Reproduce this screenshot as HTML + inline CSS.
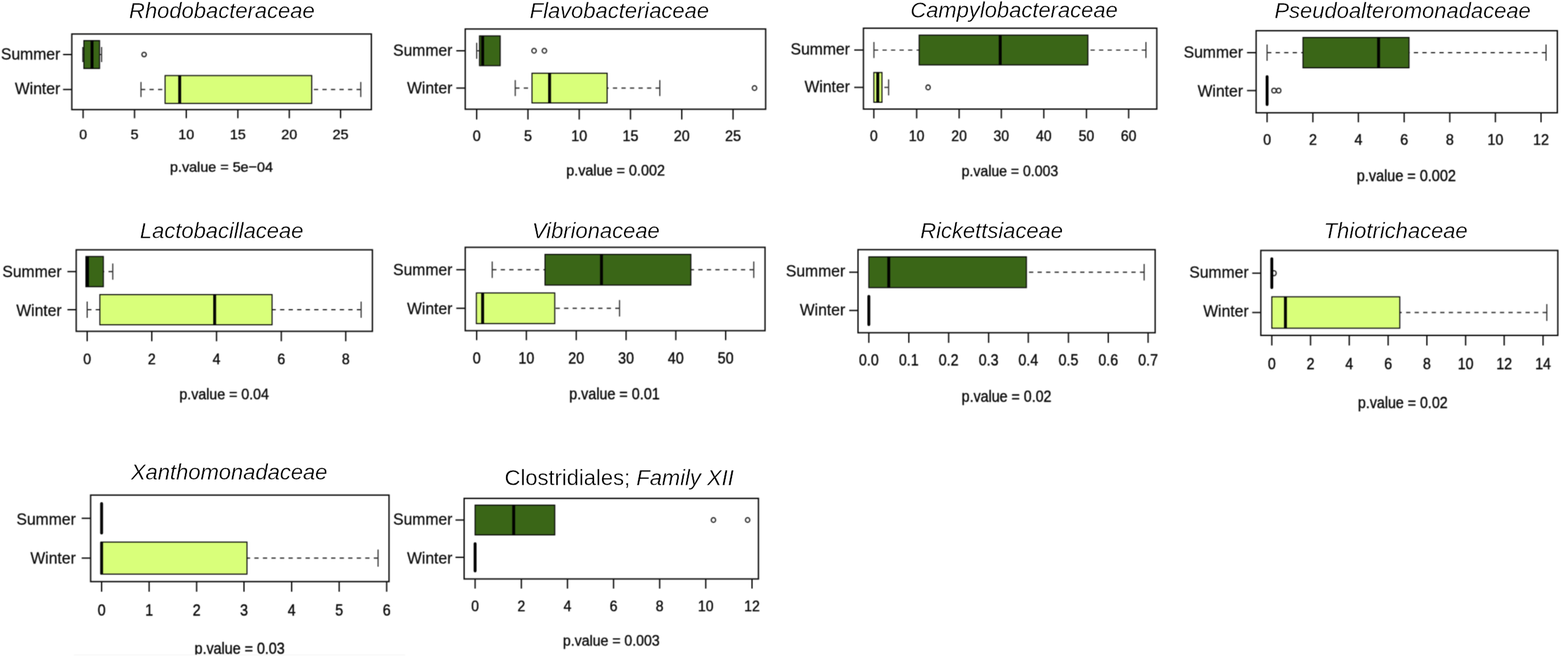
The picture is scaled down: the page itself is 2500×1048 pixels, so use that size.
<!DOCTYPE html>
<html lang="en">
<head>
<meta charset="utf-8">
<title>Seasonal differences in bacterial family abundance</title>
<style>
html,body{margin:0;padding:0;background:#fff;}
body{width:2500px;height:1048px;overflow:hidden;}
svg{display:block;}
text{font-family:"Liberation Sans",sans-serif;fill:#0c0c0c;stroke:#0c0c0c;stroke-width:0.5px;stroke-linejoin:round;}
.tt{font-size:35.0px;font-style:italic;text-anchor:middle;stroke:#fff;stroke-width:0.45px;fill:#000;}
.tt .rg{font-style:normal;}
.yl{font-size:25.0px;text-anchor:end;stroke-width:0.3px;}
.xl{font-size:22.8px;text-anchor:middle;}
.pv{font-size:22.9px;text-anchor:middle;}
.fr{fill:none;stroke:#0c0c0c;stroke-width:2.15;}
.tk{stroke:#0c0c0c;stroke-width:2.1;}
.bx{stroke:#0c0c0c;stroke-width:1.7;}
.md{stroke:#000;stroke-width:4.6;}
.rd{stroke-linecap:round;}
.wd{stroke:#303030;stroke-width:1.85;stroke-dasharray:6.8 6.8;}
.wc{stroke:#303030;stroke-width:1.8;}
.ot{fill:none;stroke:#303030;stroke-width:2.1;}
</style>
</head>
<body>
<svg width="2500" height="1048" viewBox="0 0 2500 1048" role="img" aria-label="Boxplots of bacterial family relative abundance in summer and winter">
<defs><filter id="soft" x="0" y="0" width="2500" height="1048" filterUnits="userSpaceOnUse" color-interpolation-filters="sRGB"><feConvolveMatrix order="3" kernelMatrix="0.04 0.12 0.04 0.12 0.36 0.12 0.04 0.12 0.04" edgeMode="duplicate" preserveAlpha="true"/></filter></defs>
<g filter="url(#soft)">
<rect x="0" y="0" width="2500" height="1048" fill="#fff"/>
<g class="panel">
<ellipse class="ot" cx="229.75" cy="87" rx="3.5" ry="3.5"/>
<line class="wd" x1="132" y1="87" x2="133.75" y2="87"/>
<line class="wc" x1="132" y1="74.99" x2="132" y2="99.01"/>
<line class="wd" x1="162" y1="87" x2="158.75" y2="87"/>
<line class="wc" x1="162" y1="74.99" x2="162" y2="99.01"/>
<rect class="bx" x="133.75" y="64.78" width="25" height="44.44" fill="#3a6617"/>
<line class="md" x1="146.75" y1="64.78" x2="146.75" y2="109.22"/>
<line class="wd" x1="224.75" y1="142.75" x2="263.25" y2="142.75"/>
<line class="wc" x1="224.75" y1="130.74" x2="224.75" y2="154.76"/>
<line class="wd" x1="575.25" y1="142.75" x2="497" y2="142.75"/>
<line class="wc" x1="575.25" y1="130.74" x2="575.25" y2="154.76"/>
<rect class="bx" x="263.25" y="120.53" width="233.75" height="44.44" fill="#d9ff7a"/>
<line class="md" x1="286.5" y1="120.53" x2="286.5" y2="164.97"/>
<rect class="fr" x="114.5" y="54.25" width="477.6" height="120.6"/>
<line class="tk" x1="100.5" y1="87" x2="114.5" y2="87"/>
<text class="yl" x="96" y="95.25">Summer</text>
<line class="tk" x1="100.5" y1="142.75" x2="114.5" y2="142.75"/>
<text class="yl" x="96" y="150">Winter</text>
<line class="tk" x1="132.5" y1="174.85" x2="132.5" y2="188.6"/>
<text class="xl" transform="translate(132.5 222.3) scale(0.9992 1)">0</text>
<line class="tk" x1="214.5" y1="174.85" x2="214.5" y2="188.6"/>
<text class="xl" transform="translate(214.5 222.3) scale(0.9992 1)">5</text>
<line class="tk" x1="297" y1="174.85" x2="297" y2="188.6"/>
<text class="xl" transform="translate(297 222.3) scale(0.9992 1)">10</text>
<line class="tk" x1="379.25" y1="174.85" x2="379.25" y2="188.6"/>
<text class="xl" transform="translate(379.25 222.3) scale(0.9992 1)">15</text>
<line class="tk" x1="461.25" y1="174.85" x2="461.25" y2="188.6"/>
<text class="xl" transform="translate(461.25 222.3) scale(0.9992 1)">20</text>
<line class="tk" x1="543" y1="174.85" x2="543" y2="188.6"/>
<text class="xl" transform="translate(543 222.3) scale(0.9992 1)">25</text>
<text class="pv" transform="translate(353.1 273.95) scale(0.9992 1)">p.value = 5e−04</text>
</g>
<g class="panel">
<ellipse class="ot" cx="851.5" cy="81" rx="3.51" ry="3.73"/>
<ellipse class="ot" cx="868" cy="81" rx="3.51" ry="3.73"/>
<line class="wd" x1="760" y1="81" x2="764.5" y2="81"/>
<line class="wc" x1="760" y1="68.25" x2="760" y2="93.75"/>
<rect class="bx" x="764.5" y="57.3" width="33" height="47.41" fill="#3a6617"/>
<line class="md" x1="769.5" y1="57.3" x2="769.5" y2="104.7"/>
<ellipse class="ot" cx="1203" cy="140.5" rx="3.51" ry="3.73"/>
<line class="wd" x1="821.5" y1="140.5" x2="848.25" y2="140.5"/>
<line class="wc" x1="821.5" y1="127.75" x2="821.5" y2="153.25"/>
<line class="wd" x1="1052" y1="140.5" x2="968" y2="140.5"/>
<line class="wc" x1="1052" y1="127.75" x2="1052" y2="153.25"/>
<rect class="bx" x="848.25" y="116.8" width="119.75" height="47.41" fill="#d9ff7a"/>
<line class="md" x1="876.25" y1="116.8" x2="876.25" y2="164.2"/>
<rect class="fr" x="741.75" y="46.25" width="479" height="128"/>
<line class="tk" x1="727.5" y1="81" x2="741.75" y2="81"/>
<text class="yl" x="721.25" y="89">Summer</text>
<line class="tk" x1="727.5" y1="140.5" x2="741.75" y2="140.5"/>
<text class="yl" x="721.25" y="149">Winter</text>
<line class="tk" x1="760" y1="174.25" x2="760" y2="190.6"/>
<text class="xl" transform="translate(760 225) scale(1.0021 1.0667)">0</text>
<line class="tk" x1="841.75" y1="174.25" x2="841.75" y2="190.6"/>
<text class="xl" transform="translate(841.75 225) scale(1.0021 1.0667)">5</text>
<line class="tk" x1="923.5" y1="174.25" x2="923.5" y2="190.6"/>
<text class="xl" transform="translate(923.5 225) scale(1.0021 1.0667)">10</text>
<line class="tk" x1="1005.25" y1="174.25" x2="1005.25" y2="190.6"/>
<text class="xl" transform="translate(1005.25 225) scale(1.0021 1.0667)">15</text>
<line class="tk" x1="1087" y1="174.25" x2="1087" y2="190.6"/>
<text class="xl" transform="translate(1087 225) scale(1.0021 1.0667)">20</text>
<line class="tk" x1="1168.75" y1="174.25" x2="1168.75" y2="190.6"/>
<text class="xl" transform="translate(1168.75 225) scale(1.0021 1.0667)">25</text>
<text class="pv" transform="translate(981.5 280.45) scale(1.0021 1.0667)">p.value = 0.002</text>
</g>
<g class="panel">
<line class="wd" x1="1393.4" y1="79.8" x2="1465.5" y2="79.8"/>
<line class="wc" x1="1393.4" y1="67.02" x2="1393.4" y2="92.58"/>
<line class="wd" x1="1827.1" y1="79.8" x2="1734.5" y2="79.8"/>
<line class="wc" x1="1827.1" y1="67.02" x2="1827.1" y2="92.58"/>
<rect class="bx" x="1465.5" y="56.05" width="269" height="47.5" fill="#3a6617"/>
<line class="md" x1="1594.75" y1="56.05" x2="1594.75" y2="103.55"/>
<ellipse class="ot" cx="1479.75" cy="139.4" rx="3.42" ry="3.74"/>
<line class="wd" x1="1416.75" y1="139.4" x2="1406.25" y2="139.4"/>
<line class="wc" x1="1416.75" y1="126.62" x2="1416.75" y2="152.18"/>
<rect class="bx" x="1393.25" y="115.65" width="13" height="47.5" fill="#d9ff7a"/>
<line class="md" x1="1399.5" y1="115.65" x2="1399.5" y2="163.15"/>
<rect class="fr" x="1376.65" y="45" width="467.75" height="129"/>
<line class="tk" x1="1362" y1="79.8" x2="1376.65" y2="79.8"/>
<text class="yl" x="1355" y="87.15">Summer</text>
<line class="tk" x1="1362" y1="139.4" x2="1376.65" y2="139.4"/>
<text class="yl" x="1355" y="147.15">Winter</text>
<line class="tk" x1="1393.25" y1="174" x2="1393.25" y2="188.85"/>
<text class="xl" transform="translate(1393.25 224.65) scale(0.9786 1.0688)">0</text>
<line class="tk" x1="1461.5" y1="174" x2="1461.5" y2="188.85"/>
<text class="xl" transform="translate(1461.5 224.65) scale(0.9786 1.0688)">10</text>
<line class="tk" x1="1529.25" y1="174" x2="1529.25" y2="188.85"/>
<text class="xl" transform="translate(1529.25 224.65) scale(0.9786 1.0688)">20</text>
<line class="tk" x1="1596.5" y1="174" x2="1596.5" y2="188.85"/>
<text class="xl" transform="translate(1596.5 224.65) scale(0.9786 1.0688)">30</text>
<line class="tk" x1="1664.25" y1="174" x2="1664.25" y2="188.85"/>
<text class="xl" transform="translate(1664.25 224.65) scale(0.9786 1.0688)">40</text>
<line class="tk" x1="1732.25" y1="174" x2="1732.25" y2="188.85"/>
<text class="xl" transform="translate(1732.25 224.65) scale(0.9786 1.0688)">50</text>
<line class="tk" x1="1799.5" y1="174" x2="1799.5" y2="188.85"/>
<text class="xl" transform="translate(1799.5 224.65) scale(0.9786 1.0688)">60</text>
<text class="pv" transform="translate(1610.25 281.1) scale(0.9786 1.0688)">p.value = 0.003</text>
</g>
<g class="panel">
<line class="wd" x1="2020.25" y1="84" x2="2077.5" y2="84"/>
<line class="wc" x1="2020.25" y1="71.02" x2="2020.25" y2="96.98"/>
<line class="wd" x1="2465" y1="84" x2="2246.5" y2="84"/>
<line class="wc" x1="2465" y1="71.02" x2="2465" y2="96.98"/>
<rect class="bx" x="2077.5" y="59.83" width="169" height="48.33" fill="#3a6617"/>
<line class="md" x1="2198" y1="59.83" x2="2198" y2="108.17"/>
<ellipse class="ot" cx="2031.25" cy="144.5" rx="3.52" ry="3.81"/>
<ellipse class="ot" cx="2038.75" cy="144.5" rx="3.52" ry="3.81"/>
<line class="md rd" x1="2020.25" y1="122.33" x2="2020.25" y2="166.67"/>
<rect class="fr" x="2002.75" y="49" width="480.25" height="130.9"/>
<line class="tk" x1="1988.25" y1="84" x2="2002.75" y2="84"/>
<text class="yl" x="1981.75" y="91.75">Summer</text>
<line class="tk" x1="1988.25" y1="144.5" x2="2002.75" y2="144.5"/>
<text class="yl" x="1981.75" y="154">Winter</text>
<line class="tk" x1="2020.25" y1="179.9" x2="2020.25" y2="195.1"/>
<text class="xl" transform="translate(2020.25 231.3) scale(1.0047 1.0875)">0</text>
<line class="tk" x1="2093.25" y1="179.9" x2="2093.25" y2="195.1"/>
<text class="xl" transform="translate(2093.25 231.3) scale(1.0047 1.0875)">2</text>
<line class="tk" x1="2165.75" y1="179.9" x2="2165.75" y2="195.1"/>
<text class="xl" transform="translate(2165.75 231.3) scale(1.0047 1.0875)">4</text>
<line class="tk" x1="2238.75" y1="179.9" x2="2238.75" y2="195.1"/>
<text class="xl" transform="translate(2238.75 231.3) scale(1.0047 1.0875)">6</text>
<line class="tk" x1="2311.5" y1="179.9" x2="2311.5" y2="195.1"/>
<text class="xl" transform="translate(2311.5 231.3) scale(1.0047 1.0875)">8</text>
<line class="tk" x1="2384.25" y1="179.9" x2="2384.25" y2="195.1"/>
<text class="xl" transform="translate(2384.25 231.3) scale(1.0047 1.0875)">10</text>
<line class="tk" x1="2457" y1="179.9" x2="2457" y2="195.1"/>
<text class="xl" transform="translate(2457 231.3) scale(1.0047 1.0875)">12</text>
<text class="pv" transform="translate(2242.25 289.35) scale(1.0047 1.0875)">p.value = 0.002</text>
</g>
<g class="panel">
<line class="wd" x1="179.75" y1="433.25" x2="164.75" y2="433.25"/>
<line class="wc" x1="179.75" y1="420.31" x2="179.75" y2="446.19"/>
<rect class="bx" x="137" y="409.18" width="27.75" height="48.15" fill="#3a6617"/>
<line class="md" x1="139.5" y1="409.18" x2="139.5" y2="457.32"/>
<line class="wd" x1="139" y1="494" x2="159.25" y2="494"/>
<line class="wc" x1="139" y1="481.06" x2="139" y2="506.94"/>
<line class="wd" x1="575.75" y1="494" x2="433.75" y2="494"/>
<line class="wc" x1="575.75" y1="481.06" x2="575.75" y2="506.94"/>
<rect class="bx" x="159.25" y="469.93" width="274.5" height="48.15" fill="#d9ff7a"/>
<line class="md" x1="342.25" y1="469.93" x2="342.25" y2="518.07"/>
<rect class="fr" x="121.5" y="398.5" width="472.25" height="130"/>
<line class="tk" x1="107.5" y1="433.25" x2="121.5" y2="433.25"/>
<text class="yl" x="98.25" y="441.5">Summer</text>
<line class="tk" x1="107.5" y1="494" x2="121.5" y2="494"/>
<text class="yl" x="98.25" y="504">Winter</text>
<line class="tk" x1="139" y1="528.5" x2="139" y2="544.35"/>
<text class="xl" transform="translate(139 580.8) scale(0.988 1.0833)">0</text>
<line class="tk" x1="242" y1="528.5" x2="242" y2="544.35"/>
<text class="xl" transform="translate(242 580.8) scale(0.988 1.0833)">2</text>
<line class="tk" x1="345.25" y1="528.5" x2="345.25" y2="544.35"/>
<text class="xl" transform="translate(345.25 580.8) scale(0.988 1.0833)">4</text>
<line class="tk" x1="448.5" y1="528.5" x2="448.5" y2="544.35"/>
<text class="xl" transform="translate(448.5 580.8) scale(0.988 1.0833)">6</text>
<line class="tk" x1="551.25" y1="528.5" x2="551.25" y2="544.35"/>
<text class="xl" transform="translate(551.25 580.8) scale(0.988 1.0833)">8</text>
<text class="pv" transform="translate(357.4 636.6) scale(0.988 1.0833)">p.value = 0.04</text>
</g>
<g class="panel">
<line class="wd" x1="784.75" y1="430.25" x2="869" y2="430.25"/>
<line class="wc" x1="784.75" y1="417.13" x2="784.75" y2="443.37"/>
<line class="wd" x1="1201.75" y1="430.25" x2="1101.5" y2="430.25"/>
<line class="wc" x1="1201.75" y1="417.13" x2="1201.75" y2="443.37"/>
<rect class="bx" x="869" y="405.81" width="232.5" height="48.89" fill="#3a6617"/>
<line class="md" x1="959" y1="405.81" x2="959" y2="454.69"/>
<line class="wd" x1="987.75" y1="491.75" x2="884.5" y2="491.75"/>
<line class="wc" x1="987.75" y1="478.63" x2="987.75" y2="504.87"/>
<rect class="bx" x="759.5" y="467.31" width="125" height="48.89" fill="#d9ff7a"/>
<line class="md" x1="769.5" y1="467.31" x2="769.5" y2="516.19"/>
<rect class="fr" x="741.75" y="394.5" width="478" height="133"/>
<line class="tk" x1="727.5" y1="430.25" x2="741.75" y2="430.25"/>
<text class="yl" x="721.25" y="438.75">Summer</text>
<line class="tk" x1="727.5" y1="491.75" x2="741.75" y2="491.75"/>
<text class="yl" x="721.25" y="500.85">Winter</text>
<line class="tk" x1="760" y1="527.5" x2="760" y2="542.6"/>
<text class="xl" transform="translate(760 579.55) scale(1 1.1)">0</text>
<line class="tk" x1="839.25" y1="527.5" x2="839.25" y2="542.6"/>
<text class="xl" transform="translate(839.25 579.55) scale(1 1.1)">10</text>
<line class="tk" x1="918.75" y1="527.5" x2="918.75" y2="542.6"/>
<text class="xl" transform="translate(918.75 579.55) scale(1 1.1)">20</text>
<line class="tk" x1="998.25" y1="527.5" x2="998.25" y2="542.6"/>
<text class="xl" transform="translate(998.25 579.55) scale(1 1.1)">30</text>
<line class="tk" x1="1077.5" y1="527.5" x2="1077.5" y2="542.6"/>
<text class="xl" transform="translate(1077.5 579.55) scale(1 1.1)">40</text>
<line class="tk" x1="1157" y1="527.5" x2="1157" y2="542.6"/>
<text class="xl" transform="translate(1157 579.55) scale(1 1.1)">50</text>
<text class="pv" transform="translate(979.65 636.7) scale(1 1.1)">p.value = 0.01</text>
</g>
<g class="panel">
<line class="wd" x1="1824.25" y1="434.25" x2="1636.5" y2="434.25"/>
<line class="wc" x1="1824.25" y1="421.08" x2="1824.25" y2="447.42"/>
<rect class="bx" x="1385.25" y="409.71" width="251.25" height="49.07" fill="#3a6617"/>
<line class="md" x1="1417" y1="409.71" x2="1417" y2="458.79"/>
<line class="md rd" x1="1385.25" y1="472.71" x2="1385.25" y2="517.79"/>
<rect class="fr" x="1368" y="398.25" width="473.75" height="132.5"/>
<line class="tk" x1="1354" y1="434.25" x2="1368" y2="434.25"/>
<text class="yl" x="1347.5" y="440.5">Summer</text>
<line class="tk" x1="1354" y1="495.25" x2="1368" y2="495.25"/>
<text class="yl" x="1347.5" y="503.35">Winter</text>
<line class="tk" x1="1385.25" y1="530.75" x2="1385.25" y2="546.85"/>
<text class="xl" transform="translate(1385.25 582.8) scale(0.9911 1.1042)">0.0</text>
<line class="tk" x1="1449" y1="530.75" x2="1449" y2="546.85"/>
<text class="xl" transform="translate(1449 582.8) scale(0.9911 1.1042)">0.1</text>
<line class="tk" x1="1512.5" y1="530.75" x2="1512.5" y2="546.85"/>
<text class="xl" transform="translate(1512.5 582.8) scale(0.9911 1.1042)">0.2</text>
<line class="tk" x1="1576.25" y1="530.75" x2="1576.25" y2="546.85"/>
<text class="xl" transform="translate(1576.25 582.8) scale(0.9911 1.1042)">0.3</text>
<line class="tk" x1="1639.5" y1="530.75" x2="1639.5" y2="546.85"/>
<text class="xl" transform="translate(1639.5 582.8) scale(0.9911 1.1042)">0.4</text>
<line class="tk" x1="1703.5" y1="530.75" x2="1703.5" y2="546.85"/>
<text class="xl" transform="translate(1703.5 582.8) scale(0.9911 1.1042)">0.5</text>
<line class="tk" x1="1767" y1="530.75" x2="1767" y2="546.85"/>
<text class="xl" transform="translate(1767 582.8) scale(0.9911 1.1042)">0.6</text>
<line class="tk" x1="1830.5" y1="530.75" x2="1830.5" y2="546.85"/>
<text class="xl" transform="translate(1830.5 582.8) scale(0.9911 1.1042)">0.7</text>
<text class="pv" transform="translate(1604.9 641.35) scale(0.9911 1.1042)">p.value = 0.02</text>
</g>
<g class="panel">
<ellipse class="ot" cx="2031.25" cy="435.75" rx="3.47" ry="3.94"/>
<line class="md rd" x1="2027.75" y1="412.7" x2="2027.75" y2="458.8"/>
<line class="wd" x1="2466.25" y1="498.5" x2="2231.75" y2="498.5"/>
<line class="wc" x1="2466.25" y1="485.08" x2="2466.25" y2="511.92"/>
<rect class="bx" x="2027.75" y="473.45" width="204" height="50.09" fill="#d9ff7a"/>
<line class="md" x1="2049.5" y1="473.45" x2="2049.5" y2="523.55"/>
<rect class="fr" x="2010.25" y="399.5" width="473.5" height="135.5"/>
<line class="tk" x1="1996.5" y1="435.75" x2="2010.25" y2="435.75"/>
<text class="yl" x="1990.75" y="442.5">Summer</text>
<line class="tk" x1="1996.5" y1="498.5" x2="2010.25" y2="498.5"/>
<text class="yl" x="1990.75" y="505.25">Winter</text>
<line class="tk" x1="2027.75" y1="535" x2="2027.75" y2="551.1"/>
<text class="xl" transform="translate(2027.75 588.7) scale(0.9906 1.1271)">0</text>
<line class="tk" x1="2089.5" y1="535" x2="2089.5" y2="551.1"/>
<text class="xl" transform="translate(2089.5 588.7) scale(0.9906 1.1271)">2</text>
<line class="tk" x1="2151.25" y1="535" x2="2151.25" y2="551.1"/>
<text class="xl" transform="translate(2151.25 588.7) scale(0.9906 1.1271)">4</text>
<line class="tk" x1="2213.25" y1="535" x2="2213.25" y2="551.1"/>
<text class="xl" transform="translate(2213.25 588.7) scale(0.9906 1.1271)">6</text>
<line class="tk" x1="2275" y1="535" x2="2275" y2="551.1"/>
<text class="xl" transform="translate(2275 588.7) scale(0.9906 1.1271)">8</text>
<line class="tk" x1="2336.75" y1="535" x2="2336.75" y2="551.1"/>
<text class="xl" transform="translate(2336.75 588.7) scale(0.9906 1.1271)">10</text>
<line class="tk" x1="2398.25" y1="535" x2="2398.25" y2="551.1"/>
<text class="xl" transform="translate(2398.25 588.7) scale(0.9906 1.1271)">12</text>
<line class="tk" x1="2460.25" y1="535" x2="2460.25" y2="551.1"/>
<text class="xl" transform="translate(2460.25 588.7) scale(0.9906 1.1271)">14</text>
<text class="pv" transform="translate(2236.6 650.5) scale(0.9906 1.1271)">p.value = 0.02</text>
</g>
<g class="panel">
<line class="md rd" x1="162" y1="803.19" x2="162" y2="850.31"/>
<line class="wd" x1="602.75" y1="890.25" x2="393.75" y2="890.25"/>
<line class="wc" x1="602.75" y1="876.57" x2="602.75" y2="903.93"/>
<rect class="bx" x="161" y="864.69" width="232.75" height="51.11" fill="#d9ff7a"/>
<line class="md" x1="162" y1="864.69" x2="162" y2="915.81"/>
<rect class="fr" x="144.5" y="789.75" width="475.75" height="138"/>
<line class="tk" x1="130.25" y1="826.75" x2="144.5" y2="826.75"/>
<text class="yl" x="120.75" y="836.5">Summer</text>
<line class="tk" x1="130.25" y1="890.25" x2="144.5" y2="890.25"/>
<text class="yl" x="120.75" y="899">Winter</text>
<line class="tk" x1="162" y1="927.75" x2="162" y2="943.85"/>
<text class="xl" transform="translate(162 981.55) scale(0.9953 1.15)">0</text>
<line class="tk" x1="237.75" y1="927.75" x2="237.75" y2="943.85"/>
<text class="xl" transform="translate(237.75 981.55) scale(0.9953 1.15)">1</text>
<line class="tk" x1="313.5" y1="927.75" x2="313.5" y2="943.85"/>
<text class="xl" transform="translate(313.5 981.55) scale(0.9953 1.15)">2</text>
<line class="tk" x1="389" y1="927.75" x2="389" y2="943.85"/>
<text class="xl" transform="translate(389 981.55) scale(0.9953 1.15)">3</text>
<line class="tk" x1="465" y1="927.75" x2="465" y2="943.85"/>
<text class="xl" transform="translate(465 981.55) scale(0.9953 1.15)">4</text>
<line class="tk" x1="540.75" y1="927.75" x2="540.75" y2="943.85"/>
<text class="xl" transform="translate(540.75 981.55) scale(0.9953 1.15)">5</text>
<line class="tk" x1="616.5" y1="927.75" x2="616.5" y2="943.85"/>
<text class="xl" transform="translate(616.5 981.55) scale(0.9953 1.15)">6</text>
<text class="pv" transform="translate(382.1 1042.7) scale(0.9953 1.15)">p.value = 0.03</text>
</g>
<g class="panel">
<ellipse class="ot" cx="1137.5" cy="829.5" rx="3.44" ry="3.74"/>
<ellipse class="ot" cx="1192" cy="829.5" rx="3.44" ry="3.74"/>
<rect class="bx" x="757.5" y="805.75" width="127" height="47.5" fill="#3a6617"/>
<line class="md" x1="819" y1="805.75" x2="819" y2="853.25"/>
<line class="md rd" x1="757.5" y1="867.25" x2="757.5" y2="910.75"/>
<rect class="fr" x="740" y="795" width="469.25" height="128.5"/>
<line class="tk" x1="726.25" y1="829.5" x2="740" y2="829.5"/>
<text class="yl" x="721.25" y="836.5">Summer</text>
<line class="tk" x1="726.25" y1="889" x2="740" y2="889"/>
<text class="yl" x="721.25" y="899">Winter</text>
<line class="tk" x1="757.5" y1="923.5" x2="757.5" y2="938.85"/>
<text class="xl" transform="translate(757.5 974.55) scale(0.9817 1.0688)">0</text>
<line class="tk" x1="831.25" y1="923.5" x2="831.25" y2="938.85"/>
<text class="xl" transform="translate(831.25 974.55) scale(0.9817 1.0688)">2</text>
<line class="tk" x1="904.75" y1="923.5" x2="904.75" y2="938.85"/>
<text class="xl" transform="translate(904.75 974.55) scale(0.9817 1.0688)">4</text>
<line class="tk" x1="978.25" y1="923.5" x2="978.25" y2="938.85"/>
<text class="xl" transform="translate(978.25 974.55) scale(0.9817 1.0688)">6</text>
<line class="tk" x1="1051.75" y1="923.5" x2="1051.75" y2="938.85"/>
<text class="xl" transform="translate(1051.75 974.55) scale(0.9817 1.0688)">8</text>
<line class="tk" x1="1125.25" y1="923.5" x2="1125.25" y2="938.85"/>
<text class="xl" transform="translate(1125.25 974.55) scale(0.9817 1.0688)">10</text>
<line class="tk" x1="1199" y1="923.5" x2="1199" y2="938.85"/>
<text class="xl" transform="translate(1199 974.55) scale(0.9817 1.0688)">12</text>
<text class="pv" transform="translate(974.6 1029.95) scale(0.9817 1.0688)">p.value = 0.003</text>
</g>
<rect x="118" y="1044.6" width="530" height="3.4" fill="#fff"/>
<line x1="118" y1="1044.8" x2="646" y2="1044.8" stroke="#f1f1f1" stroke-width="1"/>
</g>
<g class="labels">
<text class="tt" x="353.75" y="28.95">Rhodobacteraceae</text>
<text class="tt" x="987.5" y="29.2">Flavobacteriaceae</text>
<text class="tt" x="1616.75" y="28.45">Campylobacteraceae</text>
<text class="tt" x="2236.25" y="28.9">Pseudoalteromonadaceae</text>
<text class="tt" x="353.4" y="379.7">Lactobacillaceae</text>
<text class="tt" x="950" y="379.7">Vibrionaceae</text>
<text class="tt" x="1581" y="379.7">Rickettsiaceae</text>
<text class="tt" x="2225.25" y="379.7">Thiotrichaceae</text>
<text class="tt" x="365.4" y="764.9">Xanthomonadaceae</text>
<text class="tt" x="987.25" y="774.3"><tspan class="rg">Clostridiales; </tspan><tspan>Family XII</tspan></text>
</g>
</svg>
</body>
</html>
